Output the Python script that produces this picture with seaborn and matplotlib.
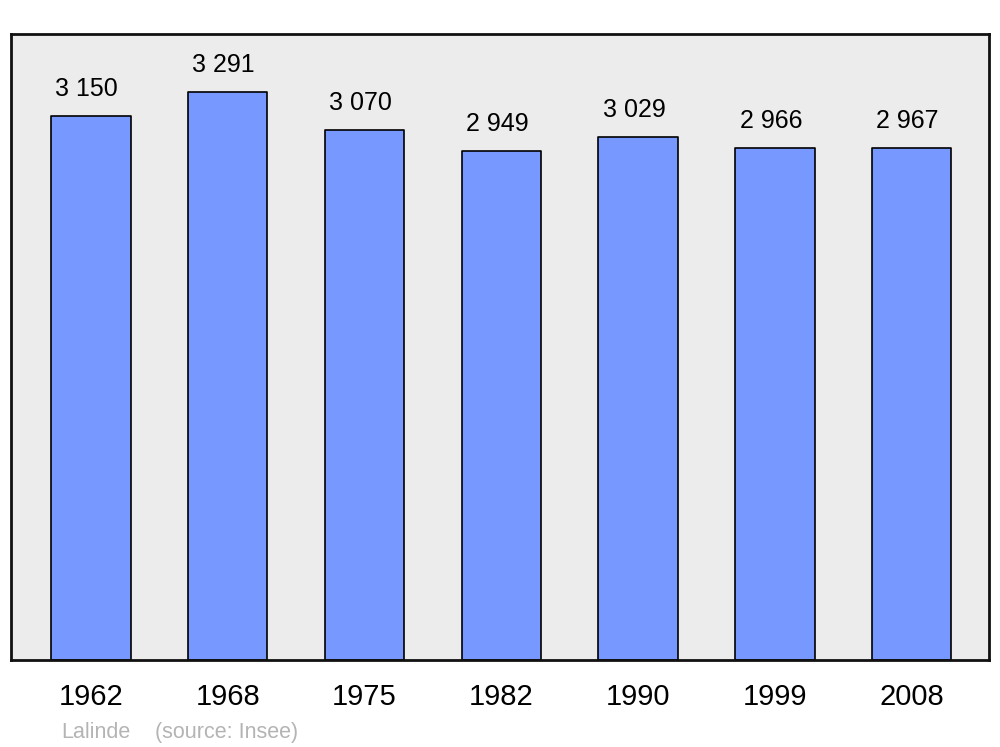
import matplotlib
matplotlib.use("Agg")
import matplotlib.pyplot as plt
import seaborn as sns
import pandas as pd

# data
years = ["1962", "1968", "1975", "1982", "1990", "1999", "2008"]
population = [3150, 3291, 3070, 2949, 3029, 2966, 2967]
value_labels = ["3 150", "3 291", "3 070", "2 949", "3 029", "2 966", "2 967"]
town = "Lalinde"
source = "(source: Insee)"

sns.set_style("white")
plt.rcParams["font.family"] = ["Liberation Sans", "DejaVu Sans"]

df = pd.DataFrame({"year": years, "population": population})

fig = plt.figure(figsize=(10, 7.47), dpi=100)
ax = fig.add_axes([0.011, 0.1165, 0.978, 0.838])
ax.set_facecolor("#ececec")

sns.barplot(
    data=df, x="year", y="population", ax=ax,
    color="#7799ff", saturation=1, width=0.58,
    edgecolor="black", linewidth=1.2,
)
for patch in ax.patches:
    patch.set_joinstyle("round")

for i, (v, lab) in enumerate(zip(population, value_labels)):
    ax.annotate(lab, (i, v), xytext=(-3, 11), textcoords="offset points",
                ha="center", va="bottom", fontsize=18, color="black")

ax.set_xlim(-0.585, 6.565)
ax.set_ylim(0, 3627)
ax.set_yticks([])
ax.set_xlabel("")
ax.set_ylabel("")
ax.tick_params(axis="x", length=0, pad=16.5, labelsize=21, labelcolor="black")
for s in ax.spines.values():
    s.set_linewidth(2)
    s.set_color("#111111")
    s.set_joinstyle("round")

fig.text(0.061, 0.020, town, color="#b4b4b4", fontsize=15.5, va="center")
fig.text(0.155, 0.020, source, color="#b4b4b4", fontsize=15.5, va="center")

fig.savefig("out.png", dpi=100)
